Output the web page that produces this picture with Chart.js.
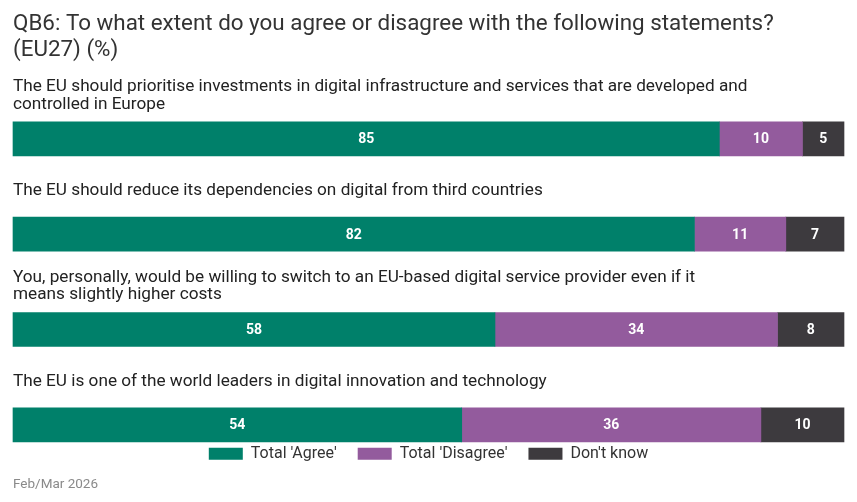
<!DOCTYPE html>
<html>
<head>
<meta charset="utf-8">
<script src="https://cdn.jsdelivr.net/npm/chart.js@4.4.1/dist/chart.umd.min.js"></script>
<style>
  html, body { margin: 0; padding: 0; background: #fff; }
  #wrap { position: relative; width: 857px; height: 502px; }
</style>
</head>
<body>
<div id="wrap"><canvas id="chart"></canvas></div>
<script>
const titleLines = ['QB6: To what extent do you agree or disagree with the following statements?', '(EU27) (%)'];
const statements = [
  ['The EU should prioritise investments in digital infrastructure and services that are developed and', 'controlled in Europe'],
  ['The EU should reduce its dependencies on digital from third countries'],
  ['You, personally, would be willing to switch to an EU-based digital service provider even if it', 'means slightly higher costs'],
  ['The EU is one of the world leaders in digital innovation and technology']
];
const seriesNames = ["Total 'Agree'", "Total 'Disagree'", "Don't know"];
const agree = [85, 82, 58, 54];
const disagree = [10, 11, 34, 36];
const dontKnow = [5, 7, 8, 10];
const footnote = 'Feb/Mar 2026';

const colours = ['#00806a', '#935b9d', '#3d3a3e'];
const family = 'Roboto, "Noto Sans", sans-serif';

// statement text sits above each bar, left aligned with the bar start
const statementLabels = {
  id: 'statementLabels',
  afterDatasetsDraw(chart) {
    const ctx = chart.ctx;
    const bars = chart.getDatasetMeta(0).data;
    ctx.save();
    ctx.font = '17.2px ' + family;
    ctx.fillStyle = '#222';
    ctx.textAlign = 'left';
    ctx.textBaseline = 'alphabetic';
    bars.forEach((bar, i) => {
      const {y, height} = bar.getProps(['y', 'height'], true);
      const lines = chart.data.labels[i];
      const mid = y - height / 2 - 28;
      lines.forEach((line, j) => {
        const base = mid + 6 + (j - (lines.length - 1) / 2) * 17.5;
        ctx.fillText(line, chart.chartArea.left, base);
      });
    });
    ctx.restore();
  }
};

// white value in the middle of every segment
const valueLabels = {
  id: 'valueLabels',
  afterDatasetsDraw(chart) {
    const ctx = chart.ctx;
    ctx.save();
    ctx.font = 'bold 14px ' + family;
    ctx.fillStyle = '#fff';
    ctx.textAlign = 'center';
    ctx.textBaseline = 'middle';
    chart.data.datasets.forEach((ds, d) => {
      chart.getDatasetMeta(d).data.forEach((bar, i) => {
        const {x, y, base} = bar.getProps(['x', 'y', 'base'], true);
        ctx.fillText(ds.data[i], (x + base) / 2, y + 1);
      });
    });
    ctx.restore();
  }
};

new Chart(document.getElementById('chart'), {
  type: 'bar',
  data: {
    labels: statements,
    datasets: [
      { label: seriesNames[0], data: agree, backgroundColor: colours[0], clip: false },
      { label: seriesNames[1], data: disagree, backgroundColor: colours[1], clip: false },
      { label: seriesNames[2], data: dontKnow, backgroundColor: colours[2], clip: false }
    ]
  },
  options: {
    indexAxis: 'y',
    responsive: true,
    maintainAspectRatio: false,
    animation: false,
    layout: { padding: { left: 13, right: 13 } },
    datasets: { bar: { barThickness: 34, borderWidth: 0 } },
    scales: {
      x: { stacked: true, min: 0, max: 100, display: false },
      y: { stacked: true, display: false, offset: false }
    },
    plugins: {
      title: {
        display: true,
        text: titleLines,
        align: 'start',
        color: '#333',
        font: { family, size: 22.4, weight: 'normal', lineHeight: 1.18 },
        padding: { top: 11, bottom: 75 }
      },
      subtitle: {
        display: true,
        position: 'bottom',
        text: footnote,
        align: 'start',
        color: '#8a8a8a',
        font: { family, size: 13.5, lineHeight: 1.2 },
        padding: { top: 5, bottom: 9 }
      },
      legend: {
        position: 'bottom',
        labels: {
          boxWidth: 34,
          boxHeight: 12,
          padding: 21,
          color: '#333',
          font: { family, size: 16 }
        }
      },
      tooltip: { enabled: false }
    }
  },
  plugins: [statementLabels, valueLabels]
});
</script>
</body>
</html>
